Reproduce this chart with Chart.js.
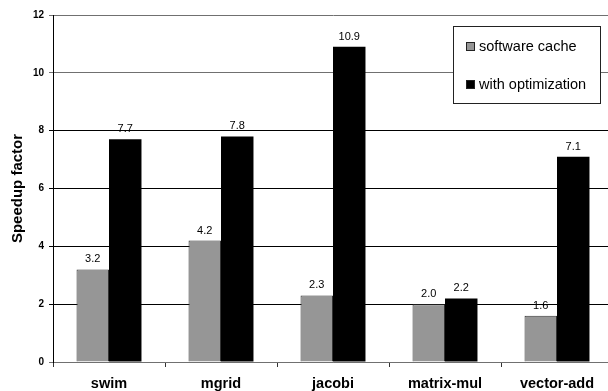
<!DOCTYPE html>
<html>
<head>
<meta charset="utf-8">
<script src="https://cdn.jsdelivr.net/npm/chart.js@4/dist/chart.umd.min.js"></script>
<style>
  html, body { margin: 0; padding: 0; background: #fff; overflow: hidden; }
  #wrap { position: relative; width: 613px; height: 391px; }
</style>
</head>
<body>
<div id="wrap"><canvas id="c" width="613" height="391"></canvas></div>
<script>
const categories = ['swim', 'mgrid', 'jacobi', 'matrix-mul', 'vector-add'];
const softwareCache = [3.2, 4.2, 2.3, 2.0, 1.6];
const withOptimization = [7.7, 7.8, 10.9, 2.2, 7.1];
const yTicks = [0, 2, 4, 6, 8, 10, 12];
const seriesNames = ['software cache', 'with optimization'];

Chart.defaults.font.family = '"Liberation Sans", Arial, Helvetica, sans-serif';
Chart.defaults.color = '#000';

const valueLabels = {
  id: 'valueLabels',
  afterDatasetsDraw(chart) {
    const ctx = chart.ctx;
    ctx.save();
    ctx.font = '11px "Liberation Sans", Arial, sans-serif';
    ctx.fillStyle = '#000';
    ctx.textAlign = 'center';
    ctx.textBaseline = 'alphabetic';
    chart.data.datasets.forEach((ds, i) => {
      const meta = chart.getDatasetMeta(i);
      meta.data.forEach((bar, j) => {
        ctx.fillText(ds.data[j].toFixed(1), bar.x, bar.y - 7);
      });
    });
    ctx.restore();
  }
};

const boxLegend = {
  id: 'boxLegend',
  afterDraw(chart) {
    const ctx = chart.ctx;
    ctx.save();
    const x0 = 453, y0 = 26, w = 147, h = 77;
    ctx.fillStyle = '#fff';
    ctx.fillRect(x0, y0, w, h);
    ctx.strokeStyle = '#222';
    ctx.lineWidth = 1;
    ctx.strokeRect(x0 + 0.5, y0 + 0.5, w, h);
    ctx.font = '14.5px "Liberation Sans", Arial, sans-serif';
    ctx.textBaseline = 'middle';
    ctx.textAlign = 'left';
    const rows = [46.5, 84.5];
    chart.data.datasets.forEach((ds, i) => {
      const cy = rows[i];
      ctx.fillStyle = ds.backgroundColor;
      ctx.fillRect(466, cy - 4.5, 9, 9);
      ctx.strokeStyle = '#222';
      ctx.strokeRect(466.5, cy - 4, 8, 8);
      ctx.fillStyle = '#000';
      ctx.fillText(ds.label, 479, cy);
    });
    ctx.restore();
  }
};

new Chart(document.getElementById('c'), {
  type: 'bar',
  data: {
    labels: categories,
    datasets: [
      { label: seriesNames[0], data: softwareCache, backgroundColor: '#969696', borderColor: '#333', borderWidth: 1,
        categoryPercentage: 0.58, barPercentage: 1.0 },
      { label: seriesNames[1], data: withOptimization, backgroundColor: '#000', borderColor: '#000', borderWidth: 0,
        categoryPercentage: 0.58, barPercentage: 1.0 }
    ]
  },
  options: {
    responsive: false,
    animation: false,
    devicePixelRatio: 1,
    layout: { padding: { top: 15, right: 0, left: 0, bottom: 0 } },
    plugins: { legend: { display: false }, tooltip: { enabled: false } },
    scales: {
      x: {
        grid: { display: true, drawOnChartArea: false, drawTicks: true, tickLength: 5, offset: true, color: '#333' },
        border: { display: true, color: '#707070', width: 1 },
        ticks: { font: { size: 14.5, weight: 'bold' }, padding: 8, maxRotation: 0, autoSkip: false },
        afterFit(scale) { scale.height = 29; }
      },
      y: {
        min: 0, max: 12,
        afterBuildTicks(scale) { scale.ticks = yTicks.map(v => ({ value: v })); },
        grid: {
          color: (c) => (c.tick && (c.tick.value >= 10 || c.tick.value === 0)) ? '#707070' : '#000',
          tickLength: 4, drawTicks: true
        },
        border: { display: true, color: '#000', width: 1 },
        ticks: { font: { size: 10, weight: 'bold' }, padding: 5 },
        title: { display: true, text: 'Speedup factor', font: { size: 15, weight: 'bold' }, padding: { top: 9, bottom: 0 } },
        afterFit(scale) { scale.width = 53; }
      }
    }
  },
  plugins: [valueLabels, boxLegend]
});
</script>
</body>
</html>
